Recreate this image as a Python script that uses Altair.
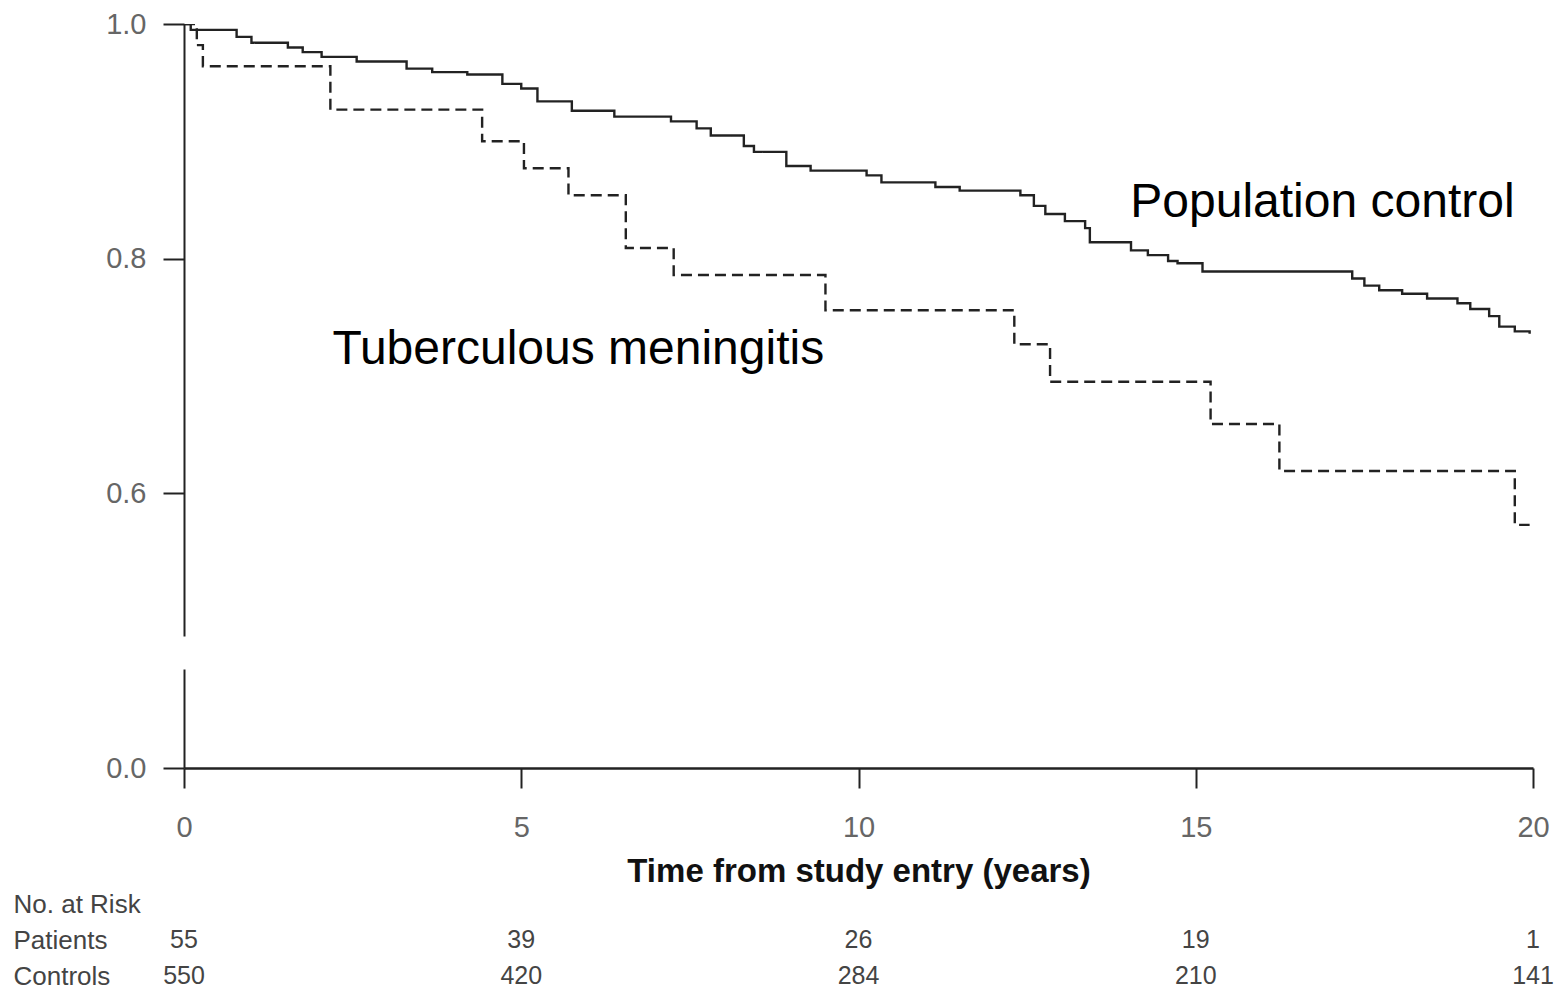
import altair as alt
import pandas as pd

# ---- data ----
pat_t = [0, 0.19, 0.28, 2.17, 4.42, 5.04, 5.70, 6.55, 7.26, 9.51, 12.31, 12.84, 15.22, 16.24, 19.73, 19.95]
pat_s = [1.0, 0.982, 0.964, 0.927, 0.900, 0.877, 0.854, 0.809, 0.786, 0.756, 0.727, 0.695, 0.659, 0.619, 0.573, 0.573]

ctl_t = [0, 0.1, 0.78, 1.0, 1.54, 1.76, 2.04, 2.56, 3.30, 3.68, 4.2, 4.72, 5.0, 5.24, 5.75, 6.38,
         7.22, 7.6, 7.81, 8.3, 8.45, 8.93, 9.29, 10.12, 10.34, 11.14, 11.5, 12.4, 12.6, 12.77,
         13.06, 13.36, 13.43, 14.04, 14.29, 14.59, 14.73, 15.1, 17.32, 17.5, 17.72, 18.06,
         18.43, 18.88, 19.07, 19.35, 19.5, 19.73, 19.95]
ctl_s = [1.0, 0.995, 0.989, 0.984, 0.980, 0.976, 0.972, 0.968, 0.962, 0.959, 0.957, 0.949, 0.945,
         0.934, 0.926, 0.921, 0.917, 0.911, 0.905, 0.896, 0.891, 0.879, 0.875, 0.871, 0.865,
         0.861, 0.858, 0.854, 0.845, 0.838, 0.832, 0.826, 0.814, 0.807, 0.803, 0.798, 0.796,
         0.789, 0.783, 0.777, 0.773, 0.770, 0.766, 0.762, 0.757, 0.751, 0.742, 0.738, 0.736]

group_names = ["Population control", "Tuberculous meningitis"]

ann_text = ["Population control", "Tuberculous meningitis"]
ann_t = [14.03, 2.20]
ann_s = [0.847, 0.722]

x_ticks = [0, 5, 10, 15, 20]
y_ticks_top = [0.6, 0.8, 1.0]
y_ticks_bottom = [0.0]

row_labels = ["No. at Risk", "Patients", "Controls"]
risk_times = [0, 5, 10, 15, 20]
risk_patients = ["55", "39", "26", "19", "1"]
risk_controls = ["550", "420", "284", "210", "141"]

# ---- tables ----
curves = pd.DataFrame({
    "t": pat_t + ctl_t,
    "s": pat_s + ctl_s,
    "group": [group_names[1]] * len(pat_t) + [group_names[0]] * len(ctl_t),
})
ann = pd.DataFrame({"t": ann_t, "s": ann_s, "label": ann_text})
risk = pd.DataFrame({
    "t": risk_times * 2,
    "row": ["Patients"] * len(risk_times) + ["Controls"] * len(risk_times),
    "n": risk_patients + risk_controls,
})

FONT = "Liberation Sans"
W = 1349
xscale = alt.Scale(domain=[0, 20], nice=False, zero=False)
dash = alt.StrokeDash("group:N", scale=alt.Scale(domain=group_names, range=[[1, 0], [11, 6]]), legend=None)

def yaxis(vals):
    return alt.Axis(values=vals, format=".1f", title=None, grid=False, tickSize=21,
                    labelPadding=17, labelFontSize=29, labelColor="#666", labelFont=FONT,
                    domainColor="#222", domainWidth=2, tickColor="#222", tickWidth=2)

xaxis = alt.Axis(values=x_ticks, format="d", title="Time from study entry (years)", grid=False,
                 tickSize=20, tickColor="#222", tickWidth=2, domainColor="#222", domainWidth=2.5,
                 labelFontSize=29, labelColor="#666", labelFont=FONT, labelPadding=25, labelFlush=False,
                 titleFontSize=33, titleFontWeight="bold", titleColor="#111", titleFont=FONT, titlePadding=13)

def lines(ydomain, vals, xax):
    return alt.Chart(curves).mark_line(interpolate="step-after", clip=True, strokeWidth=2.4, color="#222").encode(
        x=alt.X("t:Q", scale=xscale, axis=xax),
        y=alt.Y("s:Q", scale=alt.Scale(domain=ydomain, nice=False, zero=False), axis=yaxis(vals)),
        strokeDash=dash,
        detail="group:N",
    )

top_lines = lines([0.4783, 1.0], y_ticks_top, None)
labels = alt.Chart(ann).mark_text(align="left", baseline="middle", fontSize=48, font=FONT, color="black").encode(
    x=alt.X("t:Q", scale=xscale, axis=None),
    y=alt.Y("s:Q"),
    text="label:N",
)
top = alt.layer(top_lines, labels).properties(width=W, height=612)

bottom_lines = lines([0, 0.0843], y_ticks_bottom, xaxis)

table = alt.Chart(risk).mark_text(fontSize=25, font=FONT, color="#444", baseline="middle").encode(
    x=alt.X("t:Q", scale=xscale, axis=xaxis),
    y=alt.Y("row:N", scale=alt.Scale(type="point", domain=row_labels, range=[235, 307], padding=0),
            axis=alt.Axis(orient="left", title=None, ticks=False, tickSize=0, domain=False, labelAlign="left",
                          labelPadding=171, labelFontSize=26, labelColor="#444", labelFont=FONT,
                          labelBaseline="middle")),
    text="n:N",
)
bottom = alt.layer(bottom_lines, table).resolve_scale(y="independent").properties(width=W, height=99)

chart = alt.vconcat(top, bottom, spacing=33).properties(
    padding={"top": 2, "left": 5, "right": 0, "bottom": 0}
).configure(font=FONT).configure_view(strokeWidth=0, stroke="transparent")

chart.save("out.html", embed_options={"renderer": "svg", "actions": False})
